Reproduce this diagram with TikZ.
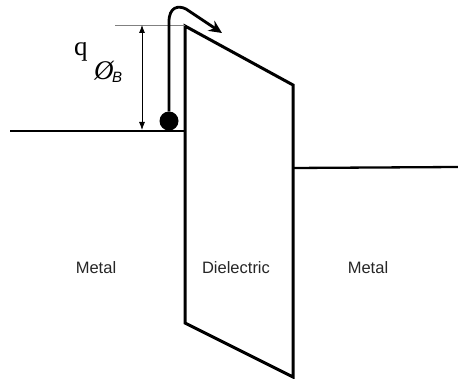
\documentclass[tikz,border=0pt]{standalone}
\usepackage{fontspec}
\setmainfont{Liberation Serif}
\setsansfont{Liberation Sans}
\usetikzlibrary{arrows.meta}
\begin{document}
\begin{tikzpicture}[x=1pt,y=-1pt,
  metal/.style={line width=2.3pt},
  diel/.style={line width=3pt, line join=miter},
  lbl/.style={font=\sffamily\fontsize{16.5}{18}\selectfont, text=black!85, inner sep=0pt}]
\useasboundingbox (0,0) rectangle (458,379);
% corners
\coordinate (tl) at (185,26);
\coordinate (tr) at (293,85);
\coordinate (br) at (293,377);
\coordinate (bl) at (185,323);
\coordinate (ml) at (10,131);
\coordinate (mlr) at (185,131);
\coordinate (mr) at (293,168);
\coordinate (mre) at (458,167);
% metal lines
\draw[metal] (ml) -- (mlr);
\draw[metal] (mr) -- (mre);
% dielectric
\draw[diel] (tl) -- (tr) -- (br) -- (bl) -- cycle;
% reference dotted line
\coordinate (ref) at (115,25);
\draw[gray, line width=0.6pt] (ref) -- (tl |- ref);
% barrier height arrow
\coordinate (at) at (142,25);
\coordinate (ab) at (142,130);
\draw[line width=0.8pt, {Latex[length=8pt,width=6pt]}-{Latex[length=8pt,width=6pt]}] (at) -- (ab);
% electron
\node[circle, fill=black, minimum size=19pt, inner sep=0pt] (e) at (169,121) {};
% tunnelling arrow
\coordinate (tip) at (222,33);
\draw[line width=2.8pt, -{Stealth[length=13pt,width=12pt]}] (e.north) -- (169,22)
  .. controls (169,7) and (178,5) .. (186,9) -- (tip);
% labels
\node[inner sep=0pt, anchor=base west, font=\fontsize{27}{30}\selectfont] (q) at (74,56) {q};
\node[inner sep=0pt, anchor=base west, font=\itshape\fontsize{27}{29}\selectfont] (phi) at (94,80) {Ø};
\node[inner sep=0pt, anchor=base west, font=\sffamily\itshape\fontsize{15}{17}\selectfont] (B) at (112,83) {B};
\node[lbl] (m1) at (96,268) {Metal};
\node[lbl] (d) at (236,268) {Dielectric};
\node[lbl] (m2) at (368,268) {Metal};
\end{tikzpicture}
\end{document}
